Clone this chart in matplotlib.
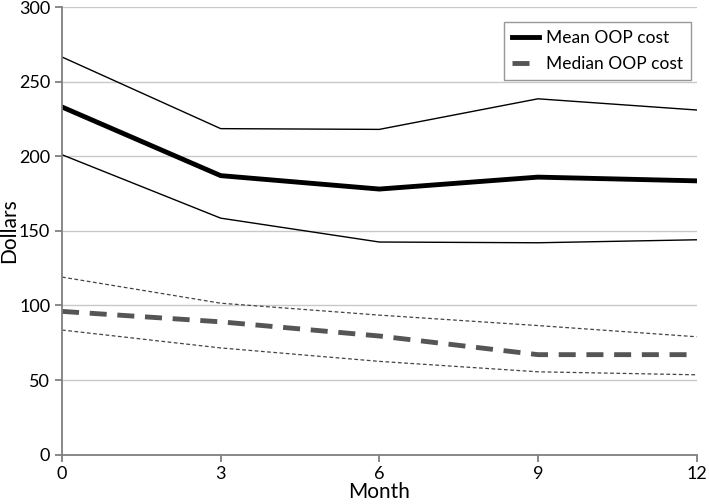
import matplotlib.pyplot as plt

plt.rcParams['font.family'] = ['Lato', 'DejaVu Sans']

months = [0, 3, 6, 9, 12]
mean_cost = [233, 187, 178, 186, 183.5]
mean_upper = [266.5, 218.5, 218, 238.5, 231]
mean_lower = [201, 158.5, 142.5, 142, 144]
median_cost = [96, 89, 79.5, 67, 67]
median_upper = [119, 101.5, 93.5, 86.5, 79]
median_lower = [83.5, 71.5, 62.5, 55.5, 53.5]

fig = plt.figure(figsize=(7.09, 5.04), dpi=100)
ax = fig.add_axes([0.0875, 0.098, 0.895, 0.888])

grid_c = "#c8c8c8"
ax.set_ylim(0, 300)
ax.set_xlim(0, 12)
ax.set_yticks(range(0, 301, 50))
ax.set_xticks(months)
ax.yaxis.grid(True, color=grid_c, lw=1)
ax.set_axisbelow(True)

ax.plot(months, mean_upper, color="black", lw=1)
ax.plot(months, mean_lower, color="black", lw=1)
ax.plot(months, mean_cost, color="black", lw=3.5, label="Mean OOP cost")

ax.plot(months, median_upper, color="#444444", lw=0.9, dashes=(3, 2))
ax.plot(months, median_lower, color="#444444", lw=0.9, dashes=(3, 2))
ax.plot(months, median_cost, color="#555555", lw=3.5, dashes=(3.5, 2.2),
        label="Median OOP cost")

for s in ["top", "right"]:
    ax.spines[s].set_visible(False)
for s in ["left", "bottom"]:
    ax.spines[s].set_color("#7f7f7f")
    ax.spines[s].set_linewidth(1.3)
ax.tick_params(colors="#7f7f7f", labelcolor="black", labelsize=13, length=5, width=1.3)

ax.set_ylabel("Dollars", fontsize=15, labelpad=0)
ax.set_xlabel("Month", fontsize=15, labelpad=0)

leg = ax.legend(loc="upper right", fontsize=12.5, frameon=True, fancybox=False,
                handlelength=1.6, handletextpad=0.4, borderpad=0.45,
                labelspacing=0.55, bbox_to_anchor=(1.005, 0.985))
leg.get_frame().set_edgecolor("#7f7f7f")
leg.get_frame().set_linewidth(1)

fig.savefig("out.png", dpi=100)
